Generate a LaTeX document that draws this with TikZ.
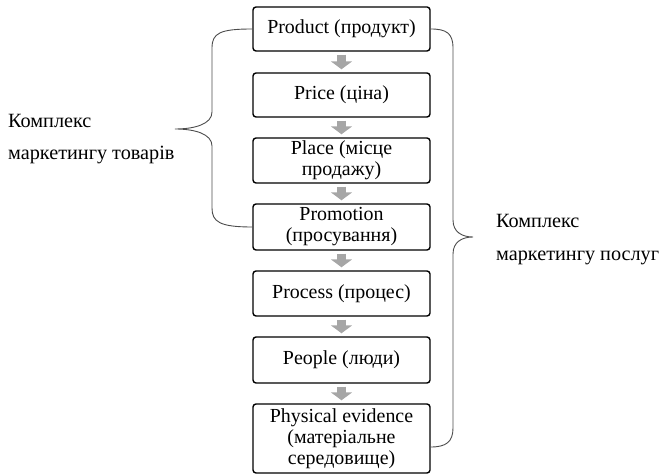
\documentclass[tikz,border=0pt]{standalone}
\usepackage{fontspec}
\setmainfont{Liberation Serif}
\usetikzlibrary{arrows.meta,calc}
\tikzset{
  boxstyle/.style={draw=black, line width=1.4bp, rounded corners=3bp, align=center,
    minimum width=177bp, inner sep=0pt, font=\fontsize{20}{21}\selectfont},
  flowarrow/.style={draw=black!35, line width=9bp, shorten <=3bp, shorten >=3bp,
    -{Triangle[width=21bp,length=8bp]}},
  bracestyle/.style={draw=black!70, line width=0.9bp},
  labelstyle/.style={anchor=base west, inner sep=0pt, font=\fontsize{20.3}{21}\selectfont}
}
\begin{document}
\begin{tikzpicture}[x=1bp,y=-1bp]
\useasboundingbox (0,0) rectangle (659,475);
\node[boxstyle, minimum height=44bp] (p) at (341.5,29) {Product (продукт)};
\node[boxstyle, minimum height=44bp] (pc) at (341.5,95) {Price (ціна)};
\node[boxstyle, minimum height=45bp] (pl) at (341.5,160.5) {Place (місце\\продажу)};
\node[boxstyle, minimum height=46bp] (pr) at (341.5,227) {Promotion\\(просування)};
\node[boxstyle, minimum height=45bp] (ps) at (341.5,293.5) {Process (процес)};
\node[boxstyle, minimum height=46bp] (pp) at (341.5,360) {People (люди)};
\node[boxstyle, minimum height=69bp] (pe) at (341.5,438.5) {Physical evidence\\(матеріальне\\середовище)};
\draw[flowarrow] (p.south) -- (pc.north);
\draw[flowarrow] (pc.south) -- (pl.north);
\draw[flowarrow] (pl.south) -- (pr.north);
\draw[flowarrow] (pr.south) -- (ps.north);
\draw[flowarrow] (ps.south) -- (pp.north);
\draw[flowarrow] (pp.south) -- (pe.north);
% left brace
\coordinate (lt) at (175,129);
\draw[bracestyle] (p.west) .. controls (220,29) and (212,33) .. (212,48) -- (212,112)
  .. controls (212,124) and (195,129) .. (lt)
  .. controls (195,129) and (212,134) .. (212,146) -- (212,208)
  .. controls (212,222) and (220,227) .. (pr.west);
% right brace
\coordinate (rt) at (473,237);
\coordinate (rb) at ($(pe.east)+(0,8.5)$);
\draw[bracestyle] (p.east) .. controls (446,29) and (453,33) .. (453,48) -- (453,220)
  .. controls (453,232) and (462,237) .. (rt)
  .. controls (462,237) and (453,242) .. (453,254) -- (453,428)
  .. controls (453,442) and (446,447) .. (rb);
\node[labelstyle] (l1) at (8,128) {Комплекс};
\node[labelstyle] (l2) at (8,160) {маркетингу товарів};
\node[labelstyle] (r1) at (496,228) {Комплекс};
\node[labelstyle] (r2) at (496,261) {маркетингу послуг};
\end{tikzpicture}
\end{document}
